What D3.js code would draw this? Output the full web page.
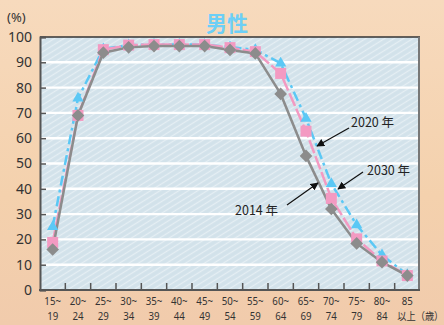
<!DOCTYPE html>
<html><head><meta charset="utf-8">
<script src="https://cdn.jsdelivr.net/npm/d3@7"></script>
<style>html,body{margin:0;padding:0;background:#f5d4b2;}svg{display:block;}</style>
</head><body>
<script>
const categories = ["15~19","20~24","25~29","30~34","35~39","40~44","45~49","50~54","55~59","60~64","65~69","70~74","75~79","80~84","85以上"];
const labelTop = ["15~","20~","25~","30~","35~","40~","45~","50~","55~","60~","65~","70~","75~","80~","85"];
const labelBottom = ["19","24","29","34","39","44","49","54","59","64","69","74","79","84","以上（歳）"];
const s2014 = [16, 69, 93.8, 95.9, 96.4, 96.4, 96.4, 94.9, 93.5, 77.5, 53, 32, 18.4, 11, 5.7];
const s2020 = [18.8, 69, 95, 96.8, 97, 97, 97, 95.8, 94.2, 85.6, 62.8, 36.2, 20.2, 11.5, 5.7];
const s2030 = [25, 75.8, 95.3, 96.8, 97, 97, 97, 96, 95, 89.6, 67.8, 42, 25.7, 13.8, 6];
const yTicks = [0,10,20,30,40,50,60,70,80,90,100];
const title = "男性";
const annotations = [
  {text:"2020 年", tx:351, ty:127, x1:349, y1:128, x2:317, y2:146},
  {text:"2030 年", tx:367, ty:175, x1:363, y1:172, x2:338, y2:189},
  {text:"2014 年", tx:235, ty:215, x1:287, y1:205, x2:318, y2:183}
];

const W = 444, H = 325;
const svg = d3.select("body").append("svg").attr("width", W).attr("height", H);
const defs = svg.append("defs");

// page background
const bg = defs.append("linearGradient").attr("id","bg").attr("x1",0).attr("y1",0).attr("x2",0).attr("y2",1);
bg.append("stop").attr("offset","0%").attr("stop-color","#f7dabd");
bg.append("stop").attr("offset","60%").attr("stop-color","#f4d1ad");
bg.append("stop").attr("offset","100%").attr("stop-color","#f1cbac");
svg.append("rect").attr("width",W).attr("height",H).attr("fill","url(#bg)");

// plot texture
const pat = defs.append("pattern").attr("id","crayon").attr("patternUnits","userSpaceOnUse")
  .attr("width",7).attr("height",5).attr("patternTransform","rotate(-32)");
pat.append("rect").attr("width",7).attr("height",5).attr("fill","#d2e2ea");
pat.append("line").attr("x1",0).attr("y1",1.5).attr("x2",7).attr("y2",1.5)
  .attr("stroke","#eaf2f5").attr("stroke-width",1.2).attr("stroke-opacity",0.8);

const x = d3.scaleBand().domain(categories).range([40, 420]).padding(0);
const y = d3.scaleLinear().domain([0,100]).range([290, 37]);
const cx = c => x(c) + x.bandwidth()/2;

svg.append("rect").attr("x",40).attr("y",37).attr("width",380).attr("height",253).attr("fill","url(#crayon)");

// gridlines
svg.append("g").selectAll("line").data(yTicks.filter(t => t>0 && t<100)).join("line")
  .attr("x1",40).attr("x2",418).attr("y1",d=>y(d)).attr("y2",d=>y(d))
  .attr("stroke","#ffffff").attr("stroke-width",2.4);

// frame
svg.append("line").attr("x1",40).attr("x2",420).attr("y1",37).attr("y2",37).attr("stroke","#333").attr("stroke-width",1.5);
svg.append("line").attr("x1",419).attr("x2",419).attr("y1",37).attr("y2",290).attr("stroke","#777").attr("stroke-width",2);

// axes
const yAxis = d3.axisLeft(y).tickValues(yTicks).tickSize(-6).tickPadding(8).tickFormat(d3.format("d"));
const gy = svg.append("g").attr("transform","translate(40,0)").call(yAxis);
gy.select(".domain").attr("stroke","#555").attr("stroke-width",2);
gy.selectAll(".tick line").attr("stroke","#555").attr("stroke-width",1.5);
gy.selectAll(".tick text").attr("font-family","'Noto Sans',sans-serif").attr("font-size",14).attr("fill","#333").attr("x",-8);

const tickX = categories.slice(1).map(c => x(c));
svg.append("g").selectAll("line").data(tickX).join("line")
  .attr("x1",d=>d).attr("x2",d=>d).attr("y1",290).attr("y2",283).attr("stroke","#555").attr("stroke-width",1.5);
svg.append("line").attr("x1",39).attr("x2",420).attr("y1",290).attr("y2",290).attr("stroke","#555").attr("stroke-width",2);

// x labels: one text per category, two lines as tspans
const last = categories.length - 1;
const xl = svg.append("g").attr("font-family","'Noto Sans',sans-serif").attr("font-size",11).attr("fill","#333");
const xt = xl.selectAll("text").data(categories).join("text")
  .attr("transform",d=>`translate(${cx(d)},304.5) scale(0.88,1)`);
xt.append("tspan").attr("x",0).attr("text-anchor","middle").text((d,i)=>labelTop[i]);
xt.append("tspan")
  .attr("x",(d,i)=> i===last ? -11.5 : 0).attr("y",16)
  .attr("text-anchor",(d,i)=> i===last ? "start" : "middle")
  .attr("font-family",(d,i)=> i===last ? "'Noto Sans CJK JP',sans-serif" : null)
  .attr("font-size",(d,i)=> i===last ? 10.5 : null)
  .text((d,i)=>labelBottom[i]);

// title and unit
svg.append("text").attr("x",227).attr("y",31).attr("text-anchor","middle")
  .attr("font-family","'Noto Sans CJK JP',sans-serif").attr("font-weight","bold").attr("font-size",21)
  .attr("fill","#6dcff6").text(title);
svg.append("text").attr("x",7).attr("y",22).attr("font-family","'Noto Sans',sans-serif")
  .attr("font-size",13).attr("fill","#333").text("(%)");

// series
const line = d3.line().x((d,i)=>cx(categories[i])).y(d=>y(d));
svg.append("path").datum(s2030).attr("d",line).attr("fill","none").attr("stroke","#5bc8f5")
  .attr("stroke-width",2.5).attr("stroke-dasharray","10,4,3,4");
svg.append("path").datum(s2020).attr("d",line).attr("fill","none").attr("stroke","#f39ac2")
  .attr("stroke-width",2.5).attr("stroke-dasharray","14,3");
svg.append("path").datum(s2014).attr("d",line).attr("fill","none").attr("stroke","#8c8c8c")
  .attr("stroke-width",2.5);

svg.append("g").selectAll("path").data(s2030).join("path")
  .attr("d", d3.symbol().type(d3.symbolTriangle).size(55))
  .attr("transform",(d,i)=>`translate(${cx(categories[i])},${y(d)})`).attr("fill","#5bc8f5");
svg.append("g").selectAll("rect").data(s2020).join("rect")
  .attr("x",(d,i)=>cx(categories[i])-5.5).attr("y",d=>y(d)-5.5).attr("width",11).attr("height",11).attr("fill","#f39ac2");
svg.append("g").selectAll("path").data(s2014).join("path")
  .attr("d", d3.symbol().type(d3.symbolSquare).size(80))
  .attr("transform",(d,i)=>`translate(${cx(categories[i])},${y(d)}) rotate(45)`).attr("fill","#8c8c8c");

// annotations
defs.append("marker").attr("id","arr").attr("viewBox","0 0 10 10").attr("refX",9).attr("refY",5)
  .attr("markerWidth",8).attr("markerHeight",8).attr("orient","auto").attr("markerUnits","userSpaceOnUse")
  .append("path").attr("d","M0,0 L10,5 L0,10 z").attr("fill","#111");
const ag = svg.append("g");
ag.selectAll("line").data(annotations).join("line")
  .attr("x1",d=>d.x1).attr("y1",d=>d.y1).attr("x2",d=>d.x2).attr("y2",d=>d.y2)
  .attr("stroke","#111").attr("stroke-width",1.2).attr("marker-end","url(#arr)");
ag.selectAll("text").data(annotations).join("text").attr("x",d=>d.tx).attr("y",d=>d.ty)
  .attr("font-family","'Noto Sans CJK JP',sans-serif").attr("font-size",12.5).attr("fill","#222").text(d=>d.text);
</script>
</body></html>
